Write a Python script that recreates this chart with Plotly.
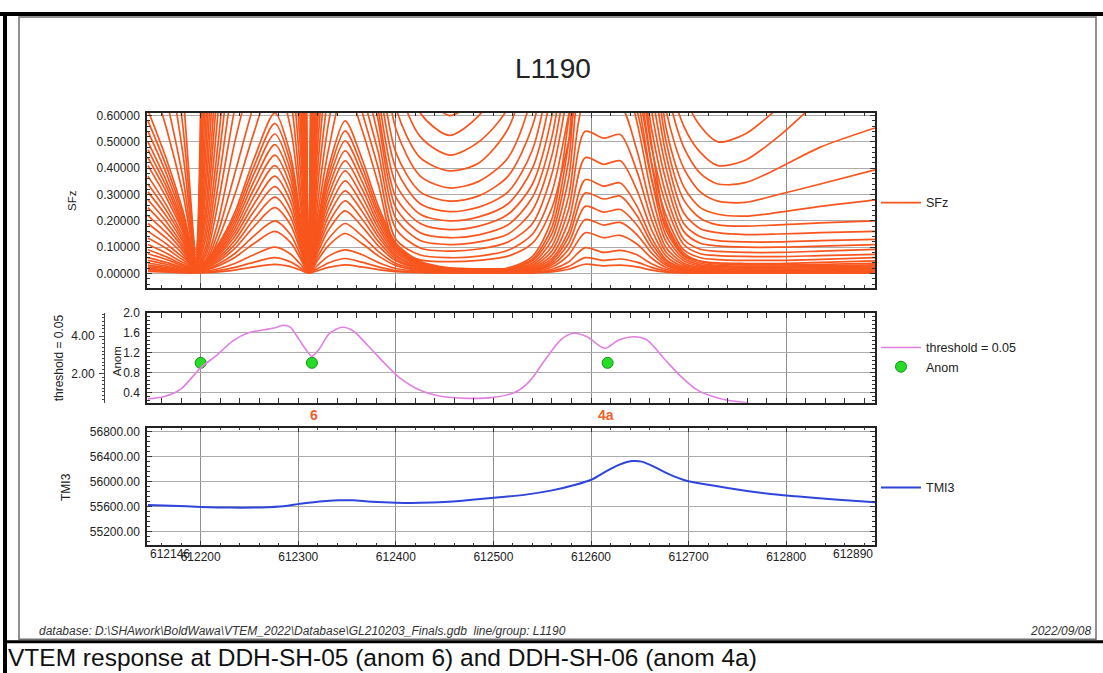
import plotly.graph_objects as go

W, H = 1103, 673
FONT = "Liberation Sans, Arial, sans-serif"

# ---------------- SFz (station eastings and channel amplitudes) ----------------
sfz_x = [612146, 612165, 612182, 612195, 612205, 612218, 612235, 612255, 612276, 612292,
         612302, 612311, 612320, 612331, 612348, 612365, 612382, 612400, 612425, 612455,
         612485, 612515, 612540, 612560, 612577, 612594, 612613, 612630, 612647, 612662,
         612677, 612695, 612712, 612730, 612758, 612792, 612835, 612891]

sfz_e4 = [1.9, 1.3, 0.68, 0.09, 2.1, 5.6, 8.8, 11.0, 12.0, 8.9, 4.5, 0.007, 4.0, 8.2, 11.4, 8.2, 5.2, 3.1, 2.1, 1.85,
          2.0, 2.7, 3.8, 4.9, 6.0, 7.2, 7.1, 7.15, 6.3, 5.0, 3.6, 2.5, 2.1, 1.85, 1.9, 2.3, 2.8, 3.4]
sfz_e3 = [1.5, 1.05, 0.55, 0.08, 1.6, 4.6, 7.6, 9.5, 10.5, 7.8, 3.9, 0.006, 3.4, 7.0, 10.0, 7.0, 4.4, 2.6, 1.75, 1.5,
          1.6, 2.2, 3.1, 4.1, 5.1, 6.2, 6.1, 6.15, 5.4, 4.3, 3.0, 2.1, 1.7, 1.5, 1.55, 1.85, 2.3, 2.8]
sfz_e2 = [1.2, 0.84, 0.45, 0.07, 1.2, 3.8, 6.5, 8.2, 9.2, 6.8, 3.4, 0.006, 2.9, 6.0, 8.8, 6.0, 3.7, 2.1, 1.4, 1.2,
          1.3, 1.75, 2.5, 3.4, 4.3, 5.3, 5.2, 5.25, 4.6, 3.6, 2.5, 1.75, 1.4, 1.2, 1.25, 1.5, 1.85, 2.3]
sfz_e0 = [0.95, 0.66, 0.36, 0.06, 0.9, 3.0, 5.5, 7.0, 8.0, 5.9, 2.9, 0.005, 2.4, 5.0, 7.6, 5.0, 3.0, 1.7, 1.1, 0.95,
          1.05, 1.4, 2.0, 2.8, 3.6, 4.5, 4.4, 4.45, 3.9, 3.0, 2.0, 1.4, 1.1, 0.95, 1.0, 1.2, 1.5, 1.9]
sfz_e1 = [0.78, 0.55, 0.30, 0.055, 0.7, 2.5, 4.7, 6.1, 7.0, 5.2, 2.5, 0.005, 2.1, 4.4, 6.6, 4.2, 2.5, 1.4, 0.9, 0.75,
          0.85, 1.1, 1.6, 2.3, 3.0, 4.0, 3.9, 3.95, 3.4, 2.6, 1.7, 1.15, 0.88, 0.76, 0.8, 0.97, 1.2, 1.55]
sfz_u01 = [0.62, 0.434, 0.236, 0.05, 0.55, 2.0, 4.0, 5.3, 6.0, 4.44, 2.16, 0.004, 1.82, 3.76, 5.7, 3.5, 2.0, 1.1, 0.72, 0.60,
           0.68, 0.9, 1.3, 1.9, 2.6, 3.5, 3.4, 3.43, 3.0, 2.2, 1.3, 0.9, 0.7, 0.62, 0.64, 0.8, 1.0, 1.3]
sfz_u02 = [0.58, 0.406, 0.220, 0.05, 0.45, 1.7, 3.5, 4.6, 5.2, 3.85, 1.87, 0.004, 1.58, 3.26, 4.94, 3.0, 1.7, 0.92, 0.61, 0.525,
           0.6, 0.78, 1.15, 1.7, 2.3, 3.1, 3.0, 3.04, 2.7, 1.9, 1.1, 0.68, 0.56, 0.5, 0.53, 0.63, 0.78, 1.0]
sfz_u03 = [0.54, 0.378, 0.205, 0.045, 0.36, 1.4, 3.0, 4.0, 4.6, 3.40, 1.66, 0.004, 1.4, 2.88, 4.37, 2.6, 1.45, 0.75, 0.52, 0.45,
           0.5, 0.63, 1.0, 1.45, 2.1, 2.8, 2.72, 2.74, 2.4, 1.6, 0.8, 0.56, 0.46, 0.41, 0.43, 0.52, 0.66, 0.8]
sfz_u04 = [0.50, 0.35, 0.19, 0.04, 0.3, 1.1, 2.5, 3.4, 4.0, 2.96, 1.44, 0.004, 1.22, 2.51, 3.8, 2.2, 1.2, 0.63, 0.44, 0.39,
           0.42, 0.55, 0.85, 1.25, 1.85, 2.5, 2.42, 2.45, 2.1, 1.4, 0.72, 0.48, 0.38, 0.34, 0.345, 0.4, 0.48, 0.553]
sfz_u05 = [0.47, 0.329, 0.179, 0.04, 0.24, 0.9, 2.1, 2.9, 3.5, 2.59, 1.26, 0.004, 1.07, 2.2, 3.33, 1.9, 1.0, 0.55, 0.37, 0.325,
           0.35, 0.44, 0.68, 1.1, 1.75, 2.2, 2.13, 2.16, 1.85, 1.2, 0.62, 0.4, 0.31, 0.275, 0.27, 0.3, 0.34, 0.394]
sfz_u06 = [0.44, 0.308, 0.167, 0.035, 0.2, 0.75, 1.7, 2.4, 3.0, 2.22, 1.08, 0.004, 0.91, 1.88, 2.85, 1.6, 0.85, 0.46, 0.31, 0.275,
           0.295, 0.37, 0.56, 0.95, 1.6, 2.0, 1.94, 1.96, 1.65, 1.05, 0.55, 0.33, 0.25, 0.225, 0.218, 0.232, 0.255, 0.28]
sfz_u07 = [0.41, 0.287, 0.156, 0.03, 0.16, 0.62, 1.4, 2.0, 2.6, 1.92, 0.94, 0.004, 0.79, 1.63, 2.47, 1.4, 0.75, 0.40, 0.265, 0.235,
           0.252, 0.31, 0.47, 0.82, 1.4, 1.8, 1.75, 1.76, 1.45, 0.9, 0.5, 0.28, 0.21, 0.185, 0.18, 0.185, 0.192, 0.2]
sfz_u08 = [0.37, 0.259, 0.141, 0.03, 0.13, 0.5, 1.15, 1.7, 2.2, 1.63, 0.79, 0.004, 0.67, 1.38, 2.09, 1.2, 0.68, 0.34, 0.225, 0.20,
           0.215, 0.265, 0.4, 0.7, 1.2, 1.6, 1.55, 1.57, 1.3, 0.8, 0.45, 0.23, 0.17, 0.155, 0.148, 0.15, 0.155, 0.16]
sfz_u09 = [0.34, 0.238, 0.129, 0.025, 0.1, 0.42, 0.95, 1.45, 1.9, 1.41, 0.68, 0.004, 0.58, 1.19, 1.8, 1.05, 0.62, 0.29, 0.19, 0.167,
           0.18, 0.225, 0.34, 0.6, 1.05, 1.45, 1.41, 1.42, 1.15, 0.7, 0.4, 0.19, 0.14, 0.125, 0.12, 0.12, 0.125, 0.13]
sfz_u10 = [0.31, 0.217, 0.118, 0.02, 0.08, 0.34, 0.78, 1.2, 1.6, 1.18, 0.58, 0.004, 0.49, 1.0, 1.52, 0.92, 0.58, 0.25, 0.155, 0.136,
           0.147, 0.185, 0.29, 0.52, 0.92, 1.3, 1.26, 1.27, 1.03, 0.62, 0.35, 0.16, 0.115, 0.105, 0.1, 0.1, 0.104, 0.11]
sfz_u11 = [0.28, 0.196, 0.106, 0.02, 0.065, 0.27, 0.63, 1.0, 1.35, 1.0, 0.49, 0.004, 0.41, 0.845, 1.28, 0.8, 0.52, 0.21, 0.125, 0.11,
           0.12, 0.15, 0.24, 0.45, 0.8, 1.15, 1.12, 1.13, 0.92, 0.55, 0.3, 0.13, 0.092, 0.084, 0.08, 0.08, 0.085, 0.092]
sfz_u12 = [0.25, 0.175, 0.095, 0.015, 0.05, 0.2, 0.5, 0.8, 1.1, 0.81, 0.40, 0.004, 0.34, 0.69, 1.05, 0.7, 0.46, 0.17, 0.097, 0.085,
           0.093, 0.12, 0.19, 0.38, 0.7, 1.0, 0.97, 0.98, 0.82, 0.48, 0.26, 0.11, 0.075, 0.068, 0.065, 0.064, 0.068, 0.073]
sfz_u13 = [0.22, 0.154, 0.084, 0.015, 0.04, 0.16, 0.38, 0.65, 0.9, 0.67, 0.32, 0.004, 0.275, 0.57, 0.86, 0.62, 0.40, 0.13, 0.07, 0.06,
           0.066, 0.088, 0.15, 0.31, 0.6, 0.9, 0.87, 0.88, 0.72, 0.42, 0.22, 0.09, 0.06, 0.053, 0.05, 0.05, 0.054, 0.06]
sfz_u14 = [0.19, 0.133, 0.072, 0.012, 0.03, 0.13, 0.3, 0.54, 0.75, 0.555, 0.27, 0.004, 0.227, 0.47, 0.71, 0.55, 0.34, 0.10, 0.052, 0.045,
           0.05, 0.066, 0.115, 0.25, 0.5, 0.8, 0.77, 0.78, 0.62, 0.36, 0.18, 0.07, 0.047, 0.04, 0.038, 0.038, 0.042, 0.048]
sfz_a01 = [0.16, 0.112, 0.061, 0.031, 0.049, 0.110, 0.232, 0.439, 0.610, 0.451, 0.220, 0.003, 0.195, 0.403, 0.580, 0.439, 0.256, 0.116, 0.046, 0.021,
           0.018, 0.021, 0.065, 0.208, 0.585, 1.30, 1.27, 1.29, 0.936, 0.494, 0.195, 0.078, 0.046, 0.036, 0.033, 0.033, 0.035, 0.039]
sfz_a02 = [0.135, 0.095, 0.051, 0.029, 0.046, 0.103, 0.217, 0.410, 0.570, 0.422, 0.205, 0.003, 0.182, 0.376, 0.542, 0.410, 0.239, 0.108, 0.043, 0.020,
           0.017, 0.020, 0.055, 0.176, 0.495, 1.10, 1.07, 1.09, 0.792, 0.418, 0.165, 0.066, 0.039, 0.031, 0.028, 0.028, 0.030, 0.033]
sfz_a03 = [0.110, 0.077, 0.042, 0.027, 0.042, 0.095, 0.201, 0.382, 0.530, 0.392, 0.191, 0.003, 0.170, 0.350, 0.504, 0.382, 0.223, 0.101, 0.040, 0.019,
           0.016, 0.019, 0.048, 0.152, 0.428, 0.950, 0.920, 0.938, 0.684, 0.361, 0.143, 0.057, 0.033, 0.027, 0.024, 0.024, 0.026, 0.029]
sfz_a04 = [0.090, 0.063, 0.034, 0.025, 0.039, 0.088, 0.186, 0.353, 0.490, 0.363, 0.176, 0.002, 0.157, 0.323, 0.466, 0.353, 0.206, 0.093, 0.037, 0.017,
           0.015, 0.017, 0.040, 0.128, 0.360, 0.800, 0.772, 0.788, 0.576, 0.304, 0.120, 0.048, 0.028, 0.022, 0.020, 0.020, 0.022, 0.024]
sfz_a05 = [0.075, 0.053, 0.029, 0.023, 0.036, 0.081, 0.171, 0.324, 0.450, 0.333, 0.162, 0.002, 0.144, 0.297, 0.428, 0.324, 0.189, 0.086, 0.034, 0.016,
           0.014, 0.016, 0.033, 0.104, 0.293, 0.650, 0.622, 0.638, 0.468, 0.247, 0.098, 0.039, 0.023, 0.018, 0.016, 0.016, 0.018, 0.020]
sfz_a06 = [0.060, 0.042, 0.023, 0.021, 0.033, 0.074, 0.156, 0.295, 0.410, 0.303, 0.148, 0.002, 0.131, 0.271, 0.390, 0.295, 0.172, 0.078, 0.031, 0.014,
           0.012, 0.014, 0.027, 0.086, 0.243, 0.540, 0.514, 0.528, 0.389, 0.205, 0.081, 0.032, 0.019, 0.015, 0.014, 0.014, 0.015, 0.016]
sfz_a07 = [0.050, 0.035, 0.019, 0.019, 0.030, 0.067, 0.141, 0.266, 0.370, 0.274, 0.133, 0.002, 0.118, 0.244, 0.352, 0.266, 0.155, 0.070, 0.028, 0.013,
           0.011, 0.013, 0.022, 0.070, 0.198, 0.440, 0.415, 0.428, 0.317, 0.167, 0.066, 0.026, 0.015, 0.012, 0.011, 0.011, 0.012, 0.013]
sfz_a08 = [0.040, 0.028, 0.015, 0.017, 0.026, 0.059, 0.125, 0.238, 0.330, 0.244, 0.119, 0.002, 0.106, 0.218, 0.314, 0.238, 0.139, 0.063, 0.025, 0.012,
           0.010, 0.012, 0.018, 0.057, 0.160, 0.356, 0.332, 0.344, 0.256, 0.135, 0.053, 0.021, 0.012, 0.010, 0.009, 0.009, 0.010, 0.011]
sfz_a09 = [0.032, 0.022, 0.012, 0.015, 0.023, 0.052, 0.110, 0.209, 0.290, 0.215, 0.104, 0.001, 0.093, 0.191, 0.276, 0.209, 0.122, 0.055, 0.022, 0.010,
           0.009, 0.010, 0.015, 0.049, 0.138, 0.306, 0.283, 0.294, 0.220, 0.116, 0.046, 0.018, 0.011, 0.009, 0.008, 0.008, 0.008, 0.009]
sfz_a10 = [0.025, 0.018, 0.010, 0.013, 0.020, 0.045, 0.095, 0.180, 0.250, 0.185, 0.090, 0.001, 0.080, 0.165, 0.238, 0.180, 0.105, 0.048, 0.019, 0.009,
           0.008, 0.009, 0.013, 0.041, 0.115, 0.255, 0.233, 0.243, 0.184, 0.097, 0.038, 0.015, 0.009, 0.007, 0.006, 0.006, 0.007, 0.008]
sfz_a11 = [0.020, 0.014, 0.008, 0.010, 0.016, 0.036, 0.076, 0.144, 0.200, 0.148, 0.072, 0.001, 0.064, 0.132, 0.190, 0.144, 0.084, 0.038, 0.015, 0.007,
           0.006, 0.007, 0.010, 0.033, 0.092, 0.205, 0.184, 0.194, 0.148, 0.078, 0.031, 0.012, 0.007, 0.006, 0.005, 0.005, 0.006, 0.006]
sfz_a12 = [0.015, 0.011, 0.006, 0.008, 0.013, 0.029, 0.061, 0.115, 0.160, 0.118, 0.058, 0.001, 0.051, 0.106, 0.152, 0.115, 0.067, 0.030, 0.012, 0.006,
           0.005, 0.006, 0.008, 0.025, 0.070, 0.155, 0.136, 0.145, 0.112, 0.059, 0.023, 0.009, 0.005, 0.004, 0.004, 0.004, 0.004, 0.005]
sfz_a13 = [0.012, 0.008, 0.005, 0.005, 0.008, 0.018, 0.038, 0.072, 0.100, 0.074, 0.036, 0.001, 0.032, 0.066, 0.090, 0.072, 0.042, 0.019, 0.008, 0.004,
           0.003, 0.004, 0.005, 0.016, 0.044, 0.098, 0.080, 0.088, 0.071, 0.037, 0.015, 0.006, 0.003, 0.003, 0.002, 0.002, 0.003, 0.003]
sfz_b01 = [0.010, 0.007, 0.004, 0.003, 0.005, 0.011, 0.023, 0.043, 0.060, 0.044, 0.022, 0.001, 0.019, 0.040, 0.057, 0.043, 0.025, 0.011, 0.005, 0.003,
           0.002, 0.003, 0.003, 0.010, 0.027, 0.060, 0.050, 0.055, 0.043, 0.023, 0.009, 0.004, 0.002, 0.002, 0.002, 0.002, 0.002, 0.002]
sfz_b02 = [0.008, 0.006, 0.003, 0.002, 0.003, 0.006, 0.013, 0.025, 0.035, 0.026, 0.013, 0.001, 0.011, 0.023, 0.033, 0.025, 0.015, 0.007, 0.003, 0.002,
           0.001, 0.002, 0.002, 0.006, 0.016, 0.035, 0.029, 0.032, 0.025, 0.013, 0.005, 0.002, 0.001, 0.001, 0.001, 0.001, 0.001, 0.001]

sfz_channels = [sfz_e4, sfz_e3, sfz_e2, sfz_e0, sfz_e1, sfz_u01, sfz_u02, sfz_u03, sfz_u04, sfz_u05, sfz_u06, sfz_u07,
                sfz_u08, sfz_u09, sfz_u10, sfz_u11, sfz_u12, sfz_u13, sfz_u14,
                sfz_a01, sfz_a02, sfz_a03, sfz_a04, sfz_a05, sfz_a06, sfz_a07, sfz_a08,
                sfz_a09, sfz_a10, sfz_a11, sfz_a12, sfz_a13, sfz_b01, sfz_b02]

# ---------------- threshold = 0.05 (left outer axis units) ----------------
thr_x = [612146, 612164, 612180, 612200, 612217, 612233, 612249, 612265, 612276, 612285,
         612292, 612300, 612308, 612314, 612321, 612332, 612345, 612356, 612372, 612388,
         612404, 612425, 612446, 612473, 612500, 612521, 612537, 612553, 612569, 612582,
         612596, 612614, 612628, 612644, 612657, 612676, 612692, 612708, 612724, 612740, 612761]
thr_y = [0.623, 0.758, 1.163, 2.297, 2.999, 3.755, 4.187, 4.349, 4.457, 4.592,
         4.484, 3.890, 3.269, 2.918, 3.269, 4.160, 4.484, 4.295, 3.458, 2.567,
         1.757, 1.082, 0.758, 0.650, 0.704, 0.947, 1.568, 2.729, 3.809, 4.160,
         3.971, 3.350, 3.782, 3.971, 3.809, 2.729, 1.838, 1.136, 0.758, 0.542, 0.407]

# ---------------- Anom picks ----------------
anom_x = [612200, 612314, 612617]
anom_y = [1.0, 1.0, 1.0]
anom_labels = ["6", "4a"]
anom_label_x = [612316, 612615]

# ---------------- TMI3 ----------------
tmi_x = [612146, 612170, 612200, 612230, 612262, 612285, 612302, 612322, 612341, 612356,
         612375, 612400, 612425, 612450, 612478, 612506, 612535, 612560, 612584, 612602,
         612615, 612628, 612642, 612652, 612666, 612681, 612697, 612720, 612750, 612780,
         612810, 612850, 612891]
tmi_y = [55627, 55614, 55595, 55584, 55587, 55605, 55645, 55683, 55702, 55700,
         55678, 55662, 55660, 55675, 55710, 55748, 55796, 55860, 55950, 56043,
         56160, 56265, 56330, 56322, 56228, 56112, 56018, 55950, 55875, 55810,
         55765, 55712, 55668]

x_tickvals = [612200, 612300, 612400, 612500, 612600, 612700, 612800]
x_ticktext = ["612200", "612300", "612400", "612500", "612600", "612700", "612800"]
x_end_vals = [612146, 612891]
x_end_text = ["612146", "612890"]

sfz_ticks = [0.0, 0.1, 0.2, 0.3, 0.4, 0.5, 0.6]
anom_ticks = [0.4, 0.8, 1.2, 1.6, 2.0]
thr_ticks = [2.0, 4.0]
tmi_ticks = [55200, 55600, 56000, 56400, 56800]

title_text = "L1190"
footer_left = "database: D:\\SHAwork\\BoldWawa\\VTEM_2022\\Database\\GL210203_Finals.gdb \u00a0line/group: L1190"
footer_right = "2022/09/08"
caption = "VTEM response at DDH-SH-05 (anom 6) and DDH-SH-06 (anom 4a)"

# ---------------- helpers ----------------
def fx(px):
    return px / W

def fy(py):
    return 1 - py / H

SFZ_COLOR = "#F8561E"
PINK = "#E27FE3"
BLUE = "#2F45DC"
GREEN = "#27DC27"
XR = [612145, 612891]

fig = go.Figure()

for i, ch in enumerate(sfz_channels):
    fig.add_trace(go.Scatter(
        x=sfz_x, y=ch, mode="lines", name="SFz", legend="legend",
        showlegend=(i == 0), legendgroup="sfz",
        line=dict(color=SFZ_COLOR, width=1.7, shape="spline", smoothing=0.8),
        xaxis="x", yaxis="y", hoverinfo="skip"))

fig.add_trace(go.Scatter(
    x=thr_x, y=thr_y, mode="lines", name="threshold = 0.05", legend="legend2",
    line=dict(color=PINK, width=1.6, shape="spline", smoothing=0.8),
    xaxis="x2", yaxis="y4", hoverinfo="skip"))

fig.add_trace(go.Scatter(
    x=anom_x, y=anom_y, mode="markers", name="Anom", legend="legend2",
    marker=dict(color=GREEN, size=11, line=dict(color="#179017", width=1)),
    xaxis="x2", yaxis="y2", hoverinfo="skip", cliponaxis=False))

fig.add_trace(go.Scatter(
    x=tmi_x, y=tmi_y, mode="lines", name="TMI3", legend="legend3",
    line=dict(color=BLUE, width=2, shape="spline", smoothing=0.8),
    xaxis="x3", yaxis="y3", hoverinfo="skip"))

XDOM = [fx(147), fx(875)]
DOM_TOP = [fy(284), fy(107)]
DOM_MID = [fy(400), fy(309)]
DOM_BOT = [fy(544), fy(425)]

tickfont = dict(family=FONT, size=12, color="#222")

def xaxis_common(anchor, labels):
    d = dict(domain=XDOM, range=XR, anchor=anchor, showline=True, linecolor="#222", linewidth=1.5,
             mirror="allticks", ticks="inside", ticklen=5, tickcolor="#333", zeroline=False,
             showgrid=True, gridcolor="#8e8e8e", gridwidth=1, tickfont=tickfont,
             minor=dict(tickmode="linear", tick0=612200, dtick=20, ticks="inside", ticklen=3,
                        tickcolor="#333", showgrid=False))
    if labels:
        d.update(tickmode="array", tickvals=x_tickvals, ticktext=x_ticktext, showticklabels=True)
    else:
        d.update(tickmode="linear", tick0=612200, dtick=200, showticklabels=False)
    return d

def yaxis_common(domain, rng, tickvals, fmt, minor_tick0, minor_dtick):
    return dict(domain=domain, range=rng, anchor=None, showline=True, linecolor="#222", linewidth=1.5,
                mirror="allticks", ticks="inside", ticklen=5, tickcolor="#333", zeroline=False,
                showgrid=True, gridcolor="#acacac", gridwidth=1, tickmode="array", tickvals=tickvals,
                tickformat=fmt, tickfont=tickfont, ticklabelstandoff=3,
                minor=dict(tickmode="linear", tick0=minor_tick0, dtick=minor_dtick, ticks="inside",
                           ticklen=3, tickcolor="#333", showgrid=False))

ya = yaxis_common(DOM_TOP, [-0.0553, 0.6102], sfz_ticks, ".5f", 0, 0.02); ya["anchor"] = "x"
ya2 = yaxis_common(DOM_MID, [0.2, 2.001], anom_ticks, ".1f", 0.4, 0.08); ya2["anchor"] = "x2"
ya3 = yaxis_common(DOM_BOT, [54978, 56868], tmi_ticks, ".2f", 55200, 80); ya3["anchor"] = "x3"
ya4 = dict(overlaying="y2", anchor="free", position=fx(104), side="left", range=[0.407, 5.267],
           tickmode="array", tickvals=thr_ticks, tickformat=".2f", ticks="outside", ticklen=5,
           tickcolor="#444", showline=True, linecolor="#444", linewidth=1, showgrid=False,
           zeroline=False, tickfont=tickfont, ticklabelstandoff=2,
           minor=dict(tickmode="linear", tick0=0, dtick=0.2, ticks="outside", ticklen=2.5,
                      tickcolor="#444", showgrid=False))

legend_common = dict(xanchor="left", yanchor="middle", bgcolor="rgba(0,0,0,0)",
                     font=dict(family=FONT, size=12.5, color="#222"), itemwidth=40,
                     tracegroupgap=0)

annotations = [
    dict(text=title_text, x=fx(553), y=fy(62), xref="paper", yref="paper", showarrow=False,
         font=dict(family=FONT, size=28, color="#222"), xanchor="center", yanchor="middle"),
    dict(text="SFz", x=fx(72), y=fy(196), xref="paper", yref="paper", showarrow=False, textangle=-90,
         font=dict(family=FONT, size=11.5, color="#222"), xanchor="center", yanchor="middle"),
    dict(text="threshold = 0.05", x=fx(59), y=fy(355), xref="paper", yref="paper", showarrow=False,
         textangle=-90, font=dict(family=FONT, size=12, color="#222"), xanchor="center", yanchor="middle"),
    dict(text="Anom", x=fx(117), y=fy(358), xref="paper", yref="paper", showarrow=False, textangle=-90,
         font=dict(family=FONT, size=11.5, color="#222"), xanchor="center", yanchor="middle"),
    dict(text="TMI3", x=fx(66), y=fy(485), xref="paper", yref="paper", showarrow=False, textangle=-90,
         font=dict(family=FONT, size=12, color="#222"), xanchor="center", yanchor="middle"),
    dict(text="<i>" + footer_left + "</i>", x=fx(37), y=fy(631), xref="paper", yref="paper",
         showarrow=False, font=dict(family=FONT, size=12, color="#333"), xanchor="left", yanchor="middle"),
    dict(text="<i>" + footer_right + "</i>", x=fx(1093), y=fy(631), xref="paper", yref="paper",
         showarrow=False, font=dict(family=FONT, size=12, color="#333"), xanchor="right", yanchor="middle"),
    dict(text=caption, x=fx(6), y=fy(657), xref="paper", yref="paper", showarrow=False,
         font=dict(family=FONT, size=24.5, color="#111"), xanchor="left", yanchor="middle"),
    dict(text=x_end_text[0], x=x_end_vals[0], y=fy(553), xref="x3", yref="paper", showarrow=False,
         font=tickfont, xanchor="left", yanchor="middle"),
    dict(text=x_end_text[1], x=x_end_vals[1], y=fy(553), xref="x3", yref="paper", showarrow=False,
         font=tickfont, xanchor="right", yanchor="middle"),
]
for lbl, lx in zip(anom_labels, anom_label_x):
    annotations.append(dict(text="<b>" + lbl + "</b>", x=lx, y=fy(412), xref="x3", yref="paper",
                            showarrow=False, font=dict(family=FONT, size=14, color="#F0612A"),
                            xanchor="center", yanchor="middle"))

shapes = [
    dict(type="rect", xref="paper", yref="paper", x0=0, x1=1, y0=fy(9), y1=fy(5),
         fillcolor="#000", line=dict(width=0), layer="above"),
    dict(type="rect", xref="paper", yref="paper", x0=fx(3), x1=fx(7), y0=0, y1=fy(5),
         fillcolor="#000", line=dict(width=0), layer="above"),
    dict(type="rect", xref="paper", yref="paper", x0=fx(3), x1=1, y0=fy(643), y1=fy(640),
         fillcolor="#000", line=dict(width=0), layer="above"),
    dict(type="rect", xref="paper", yref="paper", x0=fx(19), x1=fx(1096), y0=fy(639), y1=fy(10),
         fillcolor="rgba(0,0,0,0)", line=dict(color="#6e6e6e", width=1.5), layer="above"),
]

fig.update_layout(
    width=W, height=H, margin=dict(l=0, r=0, t=0, b=0),
    paper_bgcolor="white", plot_bgcolor="white", hovermode=False,
    font=dict(family=FONT, size=12, color="#222"),
    xaxis=xaxis_common("y", False),
    xaxis2=xaxis_common("y2", False),
    xaxis3=xaxis_common("y3", True),
    yaxis=ya, yaxis2=ya2, yaxis3=ya3, yaxis4=ya4,
    legend=dict(x=fx(876), y=fy(198), **legend_common),
    legend2=dict(x=fx(876), y=fy(354), **legend_common),
    legend3=dict(x=fx(876), y=fy(486), **legend_common),
    annotations=annotations,
    shapes=shapes,
)

fig.write_html("out.html", config={"displayModeBar": False},
               post_script="document.body.style.margin='0';document.body.style.padding='0';"
                           "document.documentElement.style.overflow='hidden';"
                           "var gd=document.getElementById('{plot_id}');"
                           "gd.style.position='fixed';gd.style.left='0px';gd.style.top='0px';")
